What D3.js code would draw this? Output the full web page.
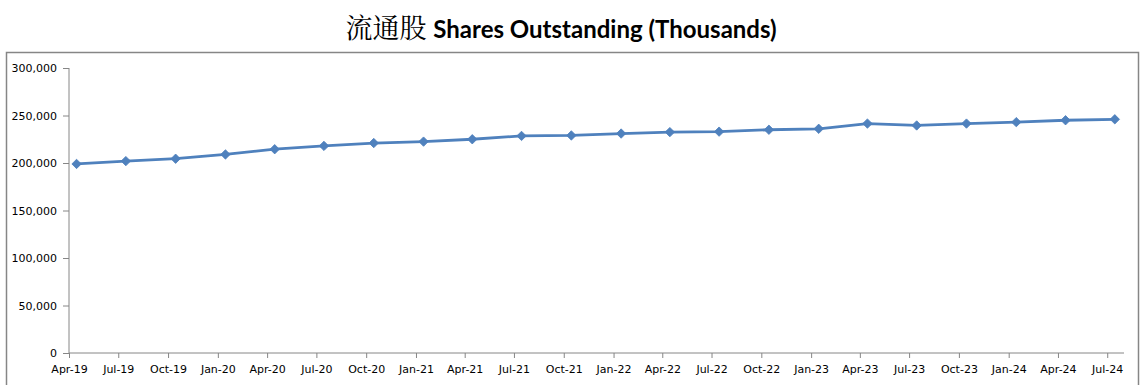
<!DOCTYPE html>
<html>
<head>
<meta charset="utf-8">
<script src="https://cdn.jsdelivr.net/npm/d3@7"></script>
<style>
  body { margin: 0; background: #fff; }
  .axis text { font-family: "DejaVu Sans", sans-serif; font-size: 11px; fill: #000; }
  .axis path, .axis line { stroke: #868686; }
</style>
</head>
<body>
<div id="chart"></div>
<script>
const w = 1143;
const h = 385;

// quarter labels, one per point
const quarters = ["Apr-19","Jul-19","Oct-19","Jan-20","Apr-20","Jul-20","Oct-20","Jan-21",
  "Apr-21","Jul-21","Oct-21","Jan-22","Apr-22","Jul-22","Oct-22","Jan-23",
  "Apr-23","Jul-23","Oct-23","Jan-24","Apr-24","Jul-24"];

// shares outstanding, thousands
const shares = [199000, 202000, 204500, 209000, 214500, 218000, 221000, 222500,
  225000, 228500, 229000, 231000, 232500, 233000, 235000, 236000,
  241500, 239500, 241500, 243000, 245000, 246000];

const yTicks = [0, 50000, 100000, 150000, 200000, 250000, 300000];

const parseQ = d3.timeParse("%b-%y");
const data = quarters.map(function(q, i) {
    const d = parseQ(q);
    return { tick: d, date: d3.timeDay.offset(d, 14), value: shares[i] };
});

const plotLeft = 69, plotRight = 1124, plotTop = 68, plotBottom = 353;

const xScale = d3.scaleTime()
    .domain([parseQ("Apr-19"), new Date(2024, 7, 1)])
    .range([plotLeft, plotRight]);

const yScale = d3.scaleLinear()
    .domain([0, 300000])
    .range([plotBottom, plotTop]);

const svg = d3.select("#chart").append("svg")
    .attr("width", w)
    .attr("height", h);

/* FRAME */
svg.append("rect")
    .attr("x", 6.5).attr("y", 52.5)
    .attr("width", 1132).attr("height", 360)
    .style("fill", "none")
    .style("stroke", "#868686")
    .style("stroke-width", 1.5);

/* TITLE */
const title = svg.append("text")
    .attr("x", 561).attr("y", 38)
    .style("text-anchor", "middle")
    .style("fill", "#000");
title.append("tspan")
    .style("font-family", "'Noto Serif CJK SC', 'Noto Sans CJK SC', serif")
    .style("font-size", "27px")
    .text("流通股 ");
title.append("tspan")
    .style("font-family", "Lato, 'Open Sans', sans-serif")
    .style("font-weight", "bold")
    .style("font-size", "24px")
    .text("Shares Outstanding (Thousands)");

/* AXES */
const yAxis = d3.axisLeft(yScale)
    .tickValues(yTicks)
    .tickSize(6)
    .tickPadding(6)
    .tickFormat(d3.format(","));

svg.append("g")
    .attr("class", "axis")
    .attr("transform", "translate(" + plotLeft + ",0)")
    .call(yAxis)
    .call(function(g) { g.select(".domain").attr("d", "M0," + plotTop + "V" + plotBottom); });

const xAxis = d3.axisBottom(xScale)
    .tickValues(data.map(function(d) { return d.tick; }))
    .tickSize(5)
    .tickPadding(7)
    .tickFormat(d3.timeFormat("%b-%y"));

svg.append("g")
    .attr("class", "axis")
    .attr("transform", "translate(0," + plotBottom + ")")
    .call(xAxis)
    .call(function(g) { g.select(".domain").attr("d", "M" + plotLeft + ",0H" + plotRight); });

/* LINE */
const line = d3.line()
    .x(function(d) { return xScale(d.date); })
    .y(function(d) { return yScale(d.value); });

svg.append("path")
    .datum(data)
    .style("fill", "none")
    .style("stroke", "#4F81BD")
    .style("stroke-width", 2.8)
    .style("stroke-linejoin", "round")
    .attr("d", line);

// diamond markers: rotated squares
svg.selectAll(".pt")
    .data(data)
    .enter()
    .append("path")
    .attr("class", "pt")
    .attr("transform", function(d) { return "translate(" + xScale(d.date) + "," + yScale(d.value) + ") rotate(45)"; })
    .attr("d", d3.symbol().type(d3.symbolSquare).size(44))
    .style("fill", "#4F81BD")
    .style("stroke", "#4F81BD")
    .style("stroke-width", 0.8);
</script>
</body>
</html>
